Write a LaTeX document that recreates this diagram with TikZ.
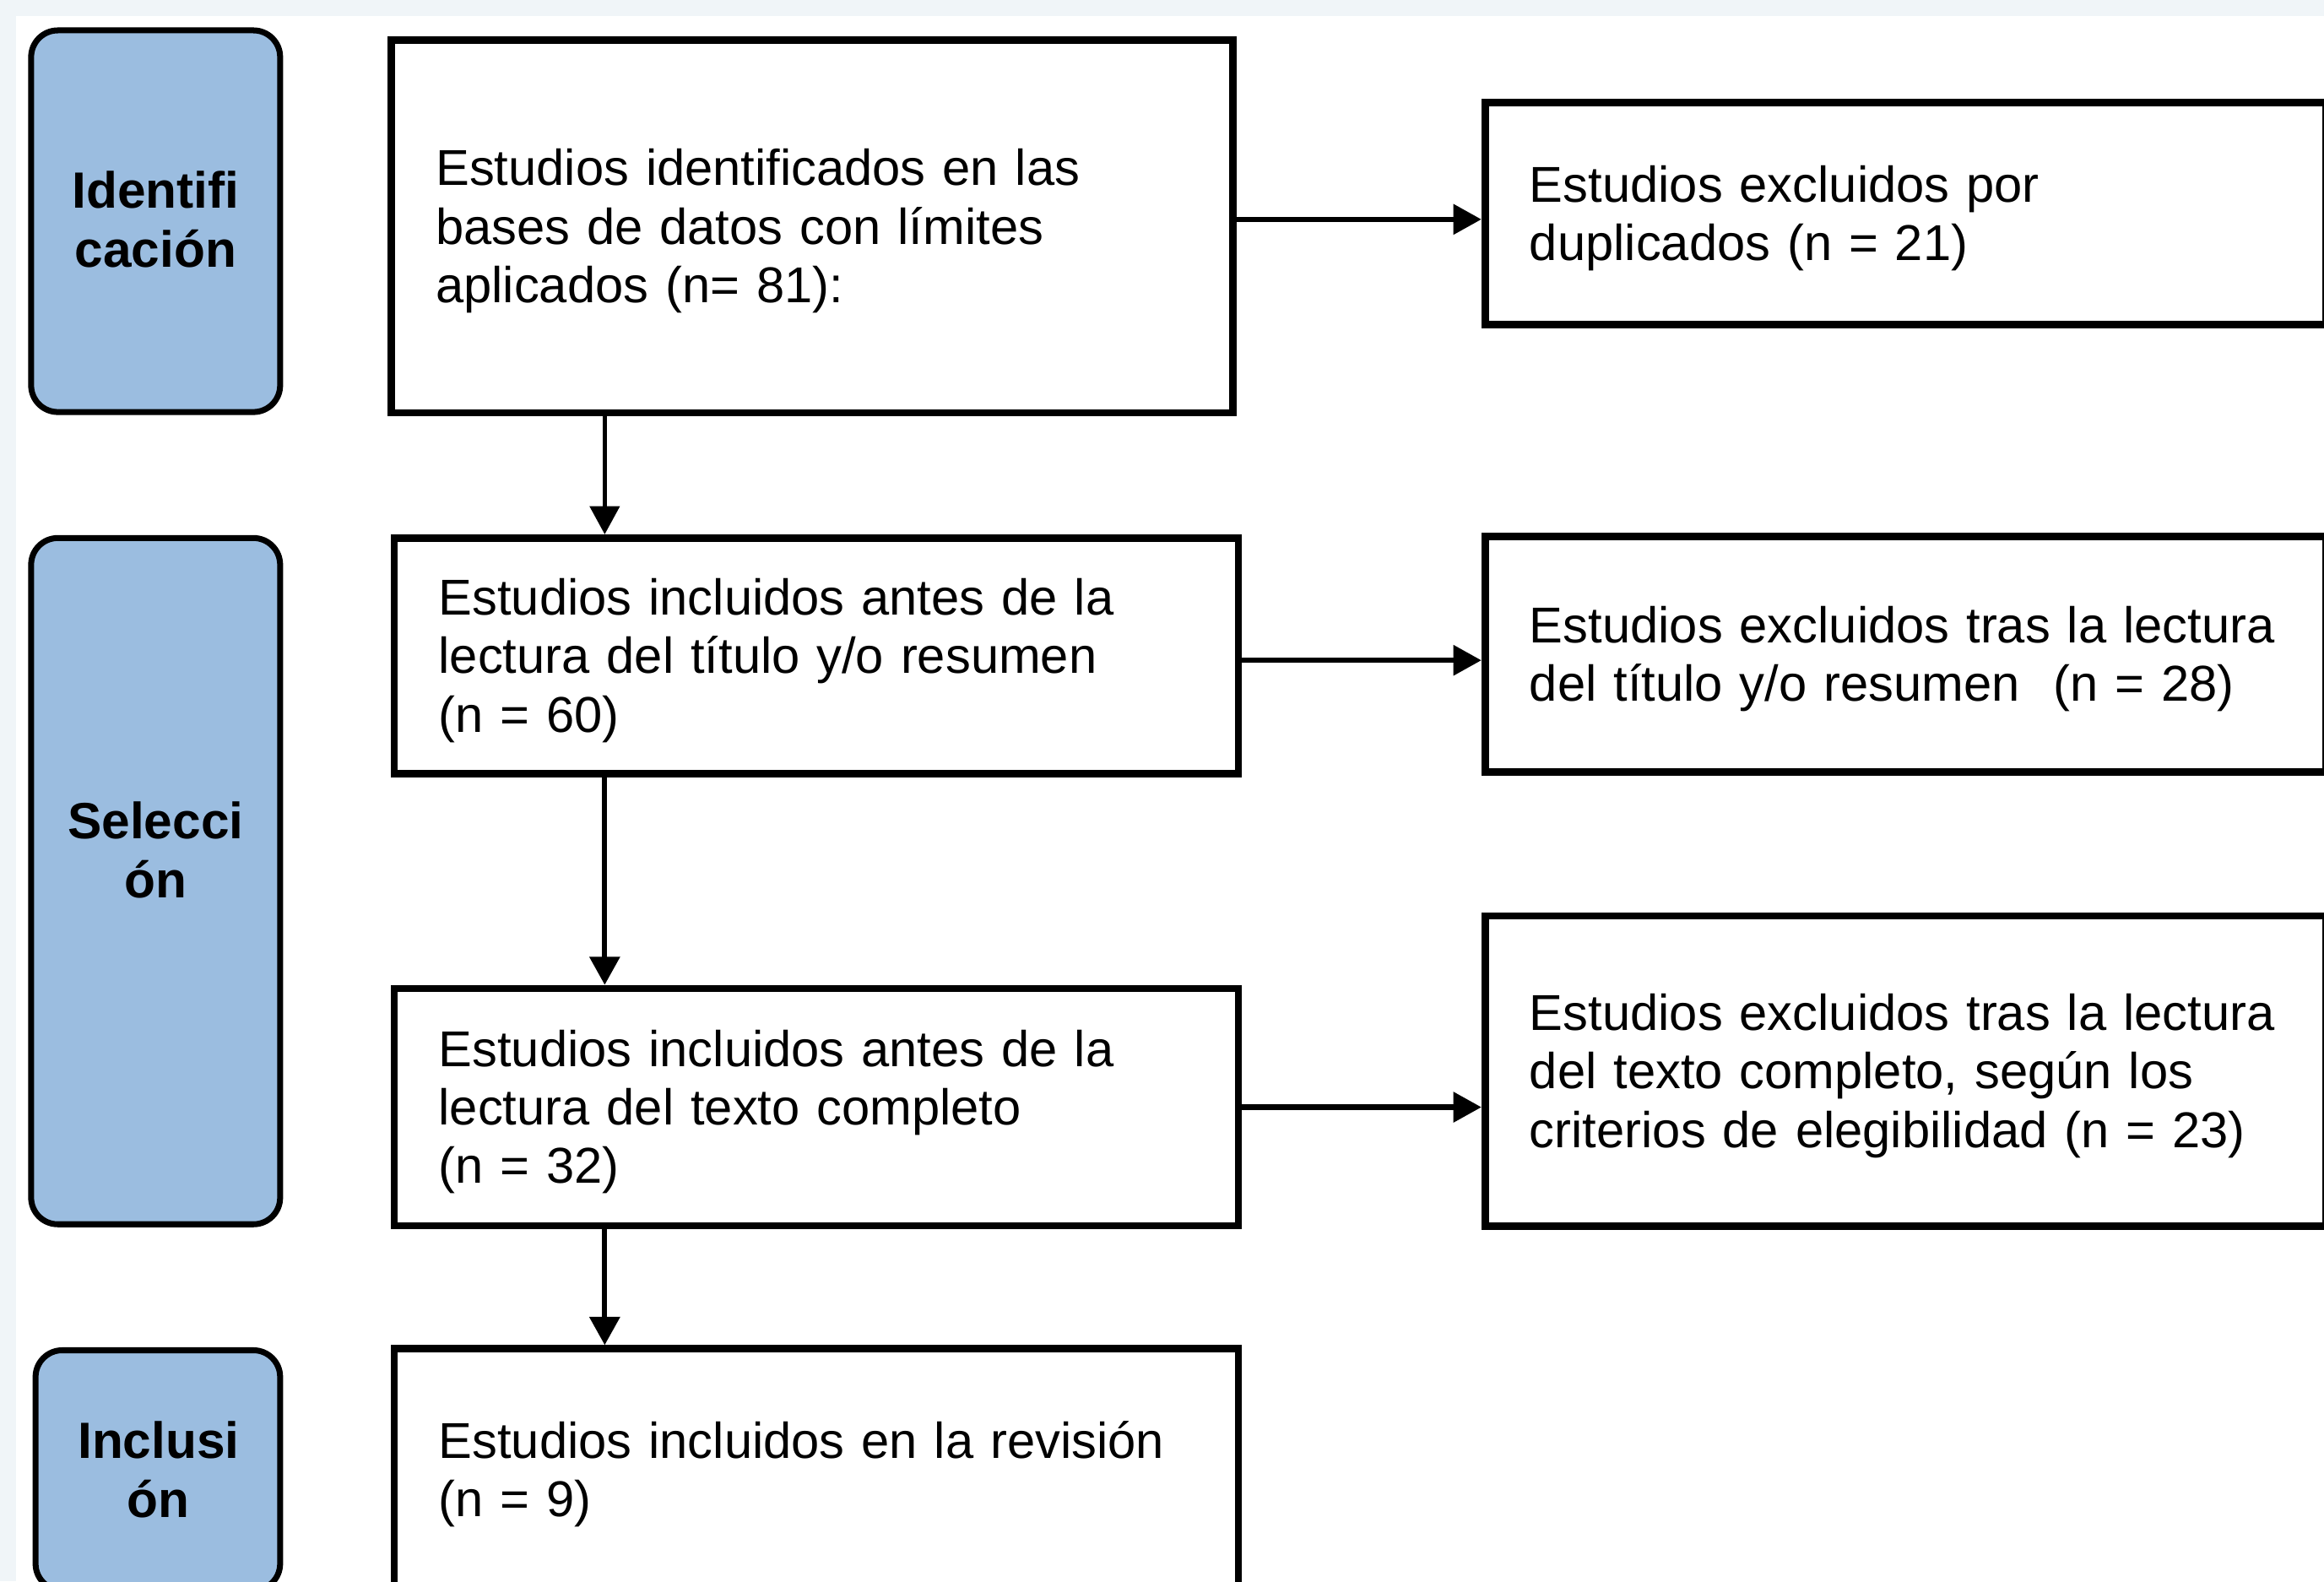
\documentclass[tikz,border=0pt]{standalone}
\usepackage{fontspec}
\setmainfont{Liberation Sans}
\usetikzlibrary{arrows.meta,calc}
\definecolor{bgstrip}{HTML}{F0F5F8}
\definecolor{sidefill}{HTML}{9BBDE0}
\tikzset{
  flowbox/.style={draw=black, line width=5pt, fill=white, rectangle, inner xsep=30pt, inner ysep=0pt,
    align=left, font=\fontsize{34pt}{39.5pt}\selectfont,
    execute at begin node={\hyphenpenalty=10000 \rule{0pt}{31pt}}},
  sidebox/.style={draw=black, line width=4pt, fill=sidefill, rounded corners=18pt, rectangle, inner sep=0pt},
  sidelabel/.style={align=center, font=\bfseries\fontsize{34.4pt}{40pt}\selectfont, inner sep=0pt},
  arr/.style={line width=3.5pt, -{Triangle[length=19pt,width=20pt]}},
}
\begin{document}
\begin{tikzpicture}[x=1pt,y=-1pt]
\useasboundingbox (0,0) rectangle (1568,1067);
\begin{scope}
\clip (0,0) rectangle (1568,1067);
\fill[bgstrip] (0,0) rectangle (1568,1067);
\fill[white] (11,11) rectangle (1568,1067);

% side boxes
\node[sidebox, minimum width=168pt, minimum height=257.5pt] (s1) at (105,149.25) {};
\node[sidebox, minimum width=168pt, minimum height=463pt] (s2) at (105,594.5) {};
\node[sidebox, minimum width=165pt, minimum height=162pt] (s3) at (106.5,992) {};
\node[sidelabel] (l1) at (105,148) {Identifi\\cación};
\node[sidelabel] (l2) at (105,573.5) {Selecci\\ón};
\node[sidelabel] (l3) at (107,991.5) {Inclusi\\ón};

% main boxes
\node[flowbox, minimum width=568pt, minimum height=251.5pt, text width=508pt] (b1) at (548,152.75)
  {Estudios identificados en las\\bases de datos con límites\\aplicados (n= 81):};
\node[flowbox, minimum width=569.5pt, minimum height=159pt, text width=509.5pt] (b2) at (550.75,442.5)
  {Estudios incluidos antes de la\\lectura del título y/o resumen\\(n = 60)};
\node[flowbox, minimum width=569.5pt, minimum height=160pt, text width=509.5pt] (b3) at (550.75,747)
  {Estudios incluidos antes de la\\lectura del texto completo\\(n = 32)};
\node[flowbox, minimum width=569.5pt, minimum height=163pt, text width=509.5pt] (b4) at (550.75,991.5)
  {Estudios incluidos en la revisión\\(n = 9)};

% right boxes
\node[flowbox, minimum width=567.5pt, minimum height=150pt, text width=507.5pt] (r1) at (1285.75,144)
  {Estudios excluidos por\\duplicados (n = 21)};
\node[flowbox, minimum width=567.5pt, minimum height=159pt, text width=507.5pt] (r2) at (1285.75,441.5)
  {Estudios excluidos tras la lectura\\del título y/o resumen\ \ (n = 28)};
\node[flowbox, minimum width=567.5pt, minimum height=209.5pt, text width=507.5pt] (r3) at (1285.75,722.75)
  {Estudios excluidos tras la lectura\\del texto completo, según los\\criterios de elegibilidad (n = 23)};

% horizontal arrows
\path ($(b1.east)+(0,-4.75)$) coordinate (h1s);
\path ($(b2.east)+(0,3)$) coordinate (h2s);
\draw[arr] (h1s) -- (h1s -| r1.west);
\draw[arr] (h2s) -- (h2s -| r2.west);
\draw[arr] (b3.east) -- (b3.east -| r3.west);

% vertical arrows
\path ($(b1.south west)+(146.5,0)$) coordinate (v1s);
\path ($(b2.south west)+(144.5,0)$) coordinate (v2s);
\path ($(b3.south west)+(144.5,0)$) coordinate (v3s);
\draw[arr, line width=2.5pt] (v1s) -- (v1s |- b2.north);
\draw[arr] (v2s) -- (v2s |- b3.north);
\draw[arr] (v3s) -- (v3s |- b4.north);
\end{scope}
\end{tikzpicture}
\end{document}
